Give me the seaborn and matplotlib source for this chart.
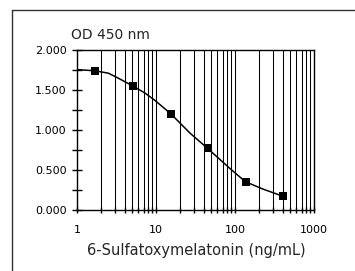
import matplotlib
matplotlib.use('Agg')
import matplotlib.pyplot as plt
import matplotlib.ticker as mticker
from matplotlib.lines import Line2D
import seaborn as sns
import pandas as pd

# standards (ng/mL) and measured OD
conc = [1.7, 5.1, 15.5, 45, 138, 410]
od = [1.74, 1.55, 1.20, 0.77, 0.35, 0.17]

# fitted curve
curve_x = [1, 1.7, 2.5, 3.3, 5.1, 7.3, 9.7, 15.5, 27, 45, 86, 116, 138, 228, 410]
curve_y = [1.755, 1.74, 1.71, 1.65, 1.55, 1.46, 1.37, 1.20, 0.96, 0.77, 0.52, 0.41, 0.35, 0.26, 0.17]

x_ticks = [1, 10, 100, 1000]
y_ticks = [0, 0.5, 1.0, 1.5, 2.0]

sns.set_style('white')
plt.rcParams['font.family'] = ['DejaVu Sans']

W, H = 355, 271
fig = plt.figure(figsize=(W / 100, H / 100), dpi=100)
ax = fig.add_axes([77 / W, 1 - 210 / H, (314 - 77) / W, (210 - 50) / H])

pts = pd.DataFrame({'conc': conc, 'od': od})
fit = pd.DataFrame({'conc': curve_x, 'od': curve_y})

ax.set_xscale('log')
ax.set_xlim(1, 1000)
ax.set_ylim(0, 2.0)

# vertical grid on every decade / minor position
ax.xaxis.set_minor_locator(mticker.LogLocator(base=10, subs=range(2, 10)))
ax.grid(True, which='both', axis='x', color='black', linewidth=0.75)
ax.grid(False, axis='y')

sns.lineplot(data=fit, x='conc', y='od', ax=ax, color='black', linewidth=1.1,
             estimator=None, sort=False, zorder=3)
sns.scatterplot(data=pts, x='conc', y='od', ax=ax, marker='s', s=30, color='black',
                edgecolor='black', linewidth=0, zorder=4)

ax.set_xticks(x_ticks)
ax.set_xticklabels([str(v) for v in x_ticks])
ax.set_yticks(y_ticks)
ax.yaxis.set_major_formatter(mticker.FormatStrFormatter('%.3f'))
ax.yaxis.set_minor_locator(mticker.MultipleLocator(0.25))

ax.tick_params(axis='y', which='both', direction='inout', length=7, width=1,
               left=True, right=False, labelsize=8, pad=4, colors='black')
ax.tick_params(axis='x', which='both', direction='inout', length=4, width=1,
               bottom=True, top=False, labelsize=8, pad=9, colors='black')

for s in ax.spines.values():
    s.set_color('black')
    s.set_linewidth(1.0)
    s.set_visible(True)

ax.set_xlabel('')
ax.set_ylabel('')

fig.text(196 / W, 1 - 251 / H, '6-Sulfatoxymelatonin (ng/mL)', ha='center', va='center',
         fontsize=10.5)
fig.text(71 / W, 1 - 35 / H, 'OD 450 nm', ha='left', va='center', fontsize=10)

# outer frame (right and bottom edges fall outside the image)
fx, fy = 11.5 / W, 1 - 9.5 / H
fig.add_artist(Line2D([fx, fx], [0, fy], transform=fig.transFigure, color='#333333', linewidth=1))
fig.add_artist(Line2D([fx, 1], [fy, fy], transform=fig.transFigure, color='#333333', linewidth=1))

fig.savefig('out.png', dpi=100)
